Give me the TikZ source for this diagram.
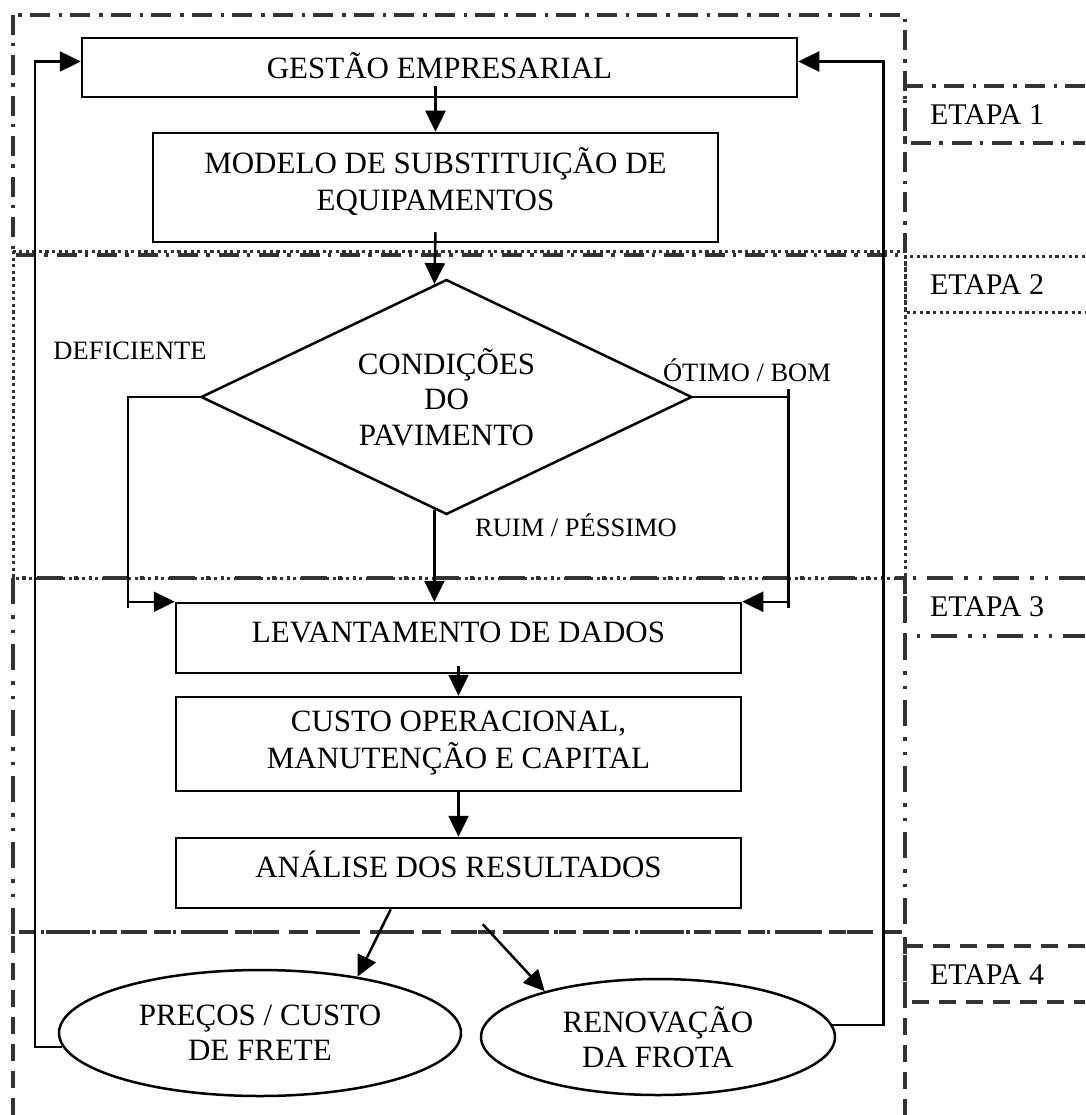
\documentclass[tikz,border=0pt]{standalone}
\usepackage{fontspec}
\setmainfont{Liberation Serif}
\usetikzlibrary{shapes.geometric,arrows.meta,calc}

\begin{document}
\begin{tikzpicture}[x=1pt,y=-1pt,
  % stage frames
  frame/.style={draw=black!80, line width=3.4pt},
  dashdot/.style={frame, dash pattern=on 20pt off 8pt on 3.5pt off 9pt},
  dotline/.style={frame, line width=3pt, dash pattern=on 3.2pt off 3.4pt},
  dashdotdot/.style={frame, dash pattern=on 26pt off 11pt on 3.5pt off 11pt on 3.5pt off 11pt},
  dashline/.style={frame, dash pattern=on 17pt off 10pt},
  % flowchart elements
  box/.style={draw, line width=2.5pt, rectangle, inner sep=0pt},
  txt/.style={align=center, inner sep=0pt, font=\fontsize{31}{36.5}\selectfont},
  decision/.style={draw, line width=2.5pt, diamond, inner sep=0pt, aspect=2.09,
    align=center, font=\fontsize{31}{35.5}\selectfont},
  terminal/.style={draw, line width=2.5pt, ellipse, inner sep=0pt,
    align=center, font=\fontsize{31}{35}\selectfont},
  small/.style={inner sep=0pt, font=\fontsize{26.5}{30}\selectfont},
  stage/.style={inner sep=0pt, font=\fontsize{30}{34}\selectfont},
  line/.style={draw, line width=2.5pt},
  arr/.style={line, -{Triangle[length=21pt,width=20pt]}}
]
\useasboundingbox (0,0) rectangle (1085,1115);
\fill[white] (0,0) rectangle (1085,1115);

% ---- stage frames ----
\draw[dashdot] (13,15) rectangle (905,255);
\draw[dotline] (13,251) rectangle (905,578);
\draw[dashdotdot] (13,578) rectangle (905,932);
\draw[dashline] (13,1115) -- (13,932) -- (905,932) -- (905,1115);

% ---- stage tags on the right ----
\draw[dashdot] (1085,86) -- (905,86) -- (905,143) -- (1085,143);
\draw[dotline] (1085,256) -- (905,256) -- (905,312) -- (1085,312);
\draw[dashdotdot] (1085,578) -- (905,578) -- (905,636) -- (1085,636);
\draw[dashline] (1085,946) -- (905,946) -- (905,1002) -- (1085,1002);
\node[stage] (e1) at (987,115) {ETAPA 1};
\node[stage] (e2) at (987,285) {ETAPA 2};
\node[stage] (e3) at (987,607) {ETAPA 3};
\node[stage] (e4) at (987,975) {ETAPA 4};

% ---- boxes ----
\node[box, minimum width=715pt, minimum height=59pt] (gestao) at (439.5,67.5) {};
\node[txt] (gestao-t) at ($(gestao)+(0,-2)$) {GESTÃO EMPRESARIAL};

\node[box, minimum width=565pt, minimum height=109pt] (modelo) at (435.5,187.5) {};
\node[txt] (modelo-t) at ($(modelo)+(0,-6)$) {MODELO DE SUBSTITUIÇÃO DE\\EQUIPAMENTOS};

\node[decision, minimum width=491pt, minimum height=235pt] (dia) at (446.5,397)
  {CONDIÇÕES\\DO\\PAVIMENTO};

\node[box, minimum width=565pt, minimum height=70pt] (lev) at (458.5,638) {};
\node[txt] (lev-t) at ($(lev)+(0,-6)$) {LEVANTAMENTO DE DADOS};

\node[box, minimum width=565pt, minimum height=94pt] (custo) at (458.5,744) {};
\node[txt] (custo-t) at ($(custo)+(0,-1)$) {CUSTO OPERACIONAL,\\MANUTENÇÃO E CAPITAL};

\node[box, minimum width=565pt, minimum height=70pt] (analise) at (458.5,873) {};
\node[txt] (analise-t) at ($(analise)+(0,-9)$) {ANÁLISE DOS RESULTADOS};

\node[terminal, minimum width=402pt, minimum height=126pt] (pre) at (260,1033)
  {PREÇOS / CUSTO\\DE FRETE};
\node[terminal, minimum width=354pt, minimum height=116pt] (ren) at (658,1037)
  {RENOVAÇÃO\\DA FROTA};

% ---- branch labels ----
\node[small] (deficiente) at (130,351) {DEFICIENTE};
\node[small] (otimo) at (747,370) {ÓTIMO / BOM};
\node[small] (ruim) at (576,525) {RUIM / PÉSSIMO};

% ---- connectors ----
\draw[arr] ($(modelo.north |- gestao.south)+(0,-12)$) -- (modelo.north);
\coordinate (dtop) at ($(dia.north)!0.049!(dia.west)$);
\draw[arr] ($(modelo.south)+(0,-11)$) -- (dtop);
\coordinate (dbot) at ($(dia.south)!0.049!(dia.west)$);
\draw[arr] (dbot) -- (dbot |- lev.north);

% DEFICIENTE branch
\draw[line] (dia.west) -| ($(lev.north west)+(-47,6)$);
\draw[arr] ($(lev.north west)+(-47,0)$) -- (lev.north west);
% ÓTIMO / BOM branch
\draw[line] (dia.east) -- ($(dia.east -| lev.north east)+(46,0)$);
\draw[line] ($(lev.north east)+(46,-213)$) -- ($(lev.north east)+(46,6)$);
\draw[arr] ($(lev.north east)+(46,0)$) -- (lev.north east);

\draw[arr] ($(lev.south)+(0,-8)$) -- (custo.north);
\draw[arr] (custo.south) -- (analise.north);

\draw[arr] ($(analise.south west)+(216,0)$) -- (pre.30);
\draw[arr] ($(analise.south west)+(308,15)$) -- (ren.158);

% feedback to management
\draw[arr] (pre.184) -| ($(gestao.west)+(-46,-6)$) -- ($(gestao.west)+(0,-6)$);
\draw[arr] (ren.4) -| ($(gestao.east)+(85,-6)$) -- ($(gestao.east)+(0,-6)$);
\end{tikzpicture}
\end{document}
